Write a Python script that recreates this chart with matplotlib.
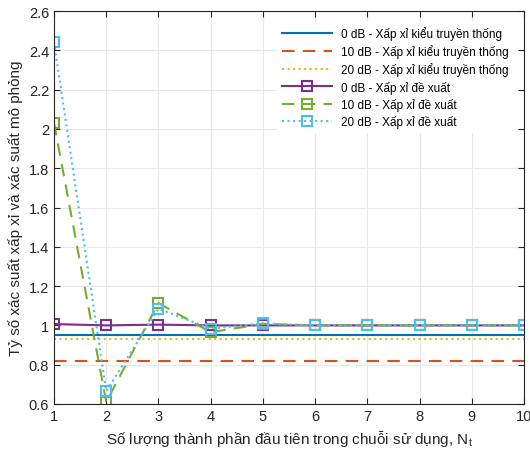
import numpy as np
import matplotlib.pyplot as plt

plt.rcParams['font.family'] = ['Liberation Sans', 'DejaVu Sans']

n_t = np.arange(1, 11)

# closed-form approximations (flat across N_t)
trad_0db = [0.95] * 10
trad_10db = [0.82] * 10
trad_20db = [0.93] * 10

# proposed approximation
prop_0db = [1.007, 1.0, 1.004, 1.0, 1.0, 1.0, 1.0, 1.0, 1.0, 1.0]
prop_10db = [2.03, 0.61, 1.114, 0.965, 1.008, 1.0, 1.0, 1.0, 1.0, 1.0]
prop_20db = [2.44, 0.665, 1.085, 0.983, 1.01, 1.0, 1.0, 1.0, 1.0, 1.0]

labels = ['0 dB - Xấp xỉ kiểu truyền thống',
          '10 dB - Xấp xỉ kiểu truyền thống',
          '20 dB - Xấp xỉ kiểu truyền thống',
          '0 dB - Xấp xỉ đề xuất',
          '10 dB - Xấp xỉ đề xuất',
          '20 dB - Xấp xỉ đề xuất']

fig = plt.figure(figsize=(5.3, 4.56), dpi=100)
ax = fig.add_axes([54 / 530, 1 - 405 / 456, 470 / 530, 393 / 456])

ax.plot(n_t, trad_0db, '-', color='#0072BD', lw=1.5, label=labels[0])
ax.plot(n_t, trad_10db, '--', color='#D95319', lw=1.5, dashes=(6, 4), label=labels[1])
ax.plot(n_t, trad_20db, ':', color='#EDB120', lw=1.5, label=labels[2])
ax.plot(n_t, prop_0db, '-', color='#7E2F8E', lw=1.5, marker='s', ms=6.5,
        mfc='none', mew=1.5, label=labels[3])
ax.plot(n_t, prop_10db, '--', color='#77AC30', lw=1.5, dashes=(6, 4), marker='s', ms=6.5,
        mfc='none', mew=1.5, label=labels[4])
ax.plot(n_t, prop_20db, ':', color='#4DBEEE', lw=1.5, marker='s', ms=6.5,
        mfc='none', mew=1.5, label=labels[5])

ax.set_xlim(1, 10)
ax.set_ylim(0.6, 2.6)
ax.set_xticks(n_t)
ax.set_yticks(np.arange(0.6, 2.61, 0.2))
ax.set_yticklabels(['0.6', '0.8', '1', '1.2', '1.4', '1.6', '1.8', '2', '2.2', '2.4', '2.6'])
ax.tick_params(direction='in', labelsize=10.5, colors='#262626', top=True, right=True, length=4)
ax.grid(True, color='#e8e8e8', lw=0.8)
ax.set_axisbelow(True)
for s in ax.spines.values():
    s.set_color('#262626')
    s.set_linewidth(0.8)

ax.set_xlabel('Số lượng thành phần đầu tiên trong chuỗi sử dụng, N$_\\mathregular{t}$',
              fontsize=11, color='#262626')
ax.set_ylabel('Tỷ số xác suất xấp xỉ và xác suất mô phỏng', fontsize=11, color='#262626')

ax.legend(loc='upper right', fontsize=8.5, frameon=True, fancybox=False,
          edgecolor='#ffffff', framealpha=1, handlelength=4.2,
          borderaxespad=0.9, labelspacing=0.35)

fig.savefig('out.png', dpi=100)
